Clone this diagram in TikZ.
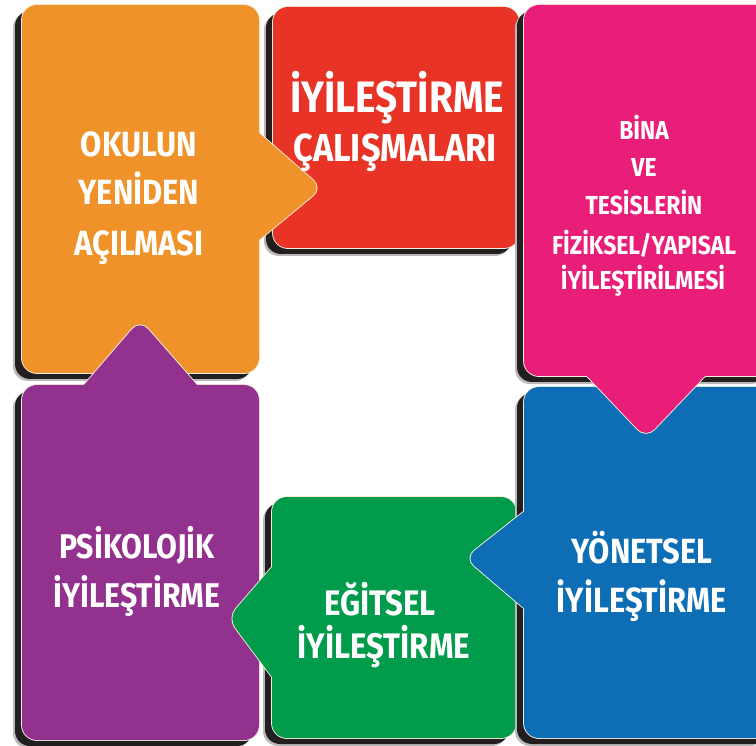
\documentclass[tikz,border=0pt]{standalone}
\usepackage{fontspec}
\newfontfamily\lab{Fira Sans}[FakeStretch=0.88]
\definecolor{orangec}{HTML}{F0922A}
\definecolor{redc}{HTML}{E83326}
\definecolor{pinkc}{HTML}{E91E79}
\definecolor{bluec}{HTML}{0D6DB5}
\definecolor{greenc}{HTML}{009B4B}
\definecolor{purplec}{HTML}{93328E}
\definecolor{shadowc}{HTML}{231F20}
\definecolor{rimc}{HTML}{F6EEDD}
\tikzset{
  lbl/.style={text=white, anchor=base, inner sep=0pt, font=\lab\bfseries},
  shadowbox/.style={fill=shadowc, rounded corners=15pt, xshift=-7pt, yshift=-6pt},
  softshadow/.style={fill=gray!55, rounded corners=15pt, xshift=-9pt, yshift=-8pt},
  rim/.style={draw=rimc, line width=1.8pt},
  body/.style={rounded corners=15pt},
  tip/.style={rounded corners=12pt},
}
\begin{document}
\begin{tikzpicture}[x=1pt,y=-1pt]
\fill[white] (0,0) rectangle (756,746);
\useasboundingbox (0,0) rectangle (756,746);

% ---- red
\fill[softshadow] (273,7) rectangle (519,248);
\fill[shadowbox] (273,7) rectangle (519,248);
\draw[rim,body] (273,7) rectangle (519,248);
\fill[redc,body] (273,7) rectangle (519,248);

% ---- orange (tab to the right)
\fill[softshadow] (22,5) rectangle (259,373);
\fill[shadowbox] (22,5) rectangle (259,373);
\draw[rim,body] (22,5) rectangle (259,373);
\draw[rim,tip] (227.5,105.5) -- (322,188) -- (227.5,266) -- cycle;
\fill[orangec,body] (22,5) rectangle (259,373);
\fill[orangec,tip] (227.5,105.5) -- (322,188) -- (227.5,266) -- cycle;

% ---- purple (tab upwards)
\fill[softshadow] (22,385) rectangle (259,740);
\fill[shadowbox] (22,385) rectangle (259,740);
\draw[rim,body] (22,385) rectangle (259,740);
\draw[rim,tip] (56,417.5) -- (140,320) -- (225.5,417.5) -- cycle;
\fill[purplec,body] (22,385) rectangle (259,740);
\fill[purplec,tip] (56,417.5) -- (140,320) -- (225.5,417.5) -- cycle;

% ---- green (tab to the left)
\fill[softshadow] (272,497) rectangle (516,738);
\fill[shadowbox] (272,497) rectangle (516,738);
\draw[rim,body] (272,497) rectangle (516,738);
\draw[rim,tip] (294,541.5) -- (228,618) -- (294,706.5) -- cycle;
\fill[greenc,body] (272,497) rectangle (516,738);
\fill[greenc,tip] (294,541.5) -- (228,618) -- (294,706.5) -- cycle;

% ---- blue (tab to the left)
\fill[softshadow] (524,387) rectangle (775,738);
\fill[shadowbox] (524,387) rectangle (775,738);
\draw[rim,body] (524,387) rectangle (775,738);
\draw[rim,tip] (556.5,486) -- (465,558) -- (556.5,636) -- cycle;
\fill[bluec,body] (524,387) rectangle (775,738);
\fill[bluec,tip] (556.5,486) -- (465,558) -- (556.5,636) -- cycle;

% ---- pink (tab downwards)
\fill[softshadow] (524,5) rectangle (775,376);
\fill[shadowbox] (524,5) rectangle (775,376);
\draw[rim,body] (524,5) rectangle (775,376);
\draw[rim,tip] (557.5,345) -- (646,438) -- (734.5,345) -- cycle;
\fill[pinkc,body] (524,5) rectangle (775,376);
\fill[pinkc,tip] (557.5,345) -- (646,438) -- (734.5,345) -- cycle;

% ---- texts
\node[lbl, font=\lab\bfseries\fontsize{35}{35}\selectfont] (o1) at (139,157) {OKULUN};
\node[lbl, font=\lab\bfseries\fontsize{35}{35}\selectfont] (o2) at (139,205) {YENİDEN};
\node[lbl, font=\lab\bfseries\fontsize{35}{35}\selectfont] (o3) at (139,256) {AÇILMASI};

\node[lbl, font=\lab\bfseries\fontsize{44}{44}\selectfont] (r1) at (397,113) {İYİLEŞTİRME};
\node[lbl, font=\lab\bfseries\fontsize{39}{39}\selectfont] (r2) at (395,162) {ÇALIŞMALARI};

\node[lbl, font=\lab\bfseries\fontsize{26}{26}\selectfont] (p1) at (644,140) {BİNA};
\node[lbl, font=\lab\bfseries\fontsize{26}{26}\selectfont] (p2) at (644,177) {VE};
\node[lbl, font=\lab\bfseries\fontsize{26}{26}\selectfont] (p3) at (644,215) {TESİSLERİN};
\node[lbl, font=\lab\bfseries\fontsize{26}{26}\selectfont] (p4) at (644,255) {FİZİKSEL/YAPISAL};
\node[lbl, font=\lab\bfseries\fontsize{26}{26}\selectfont] (p5) at (643,290) {İYİLEŞTİRİLMESİ};

\node[lbl, font=\lab\bfseries\fontsize{34.3}{34.3}\selectfont] (u1) at (137,558) {PSİKOLOJİK};
\node[lbl, font=\lab\bfseries\fontsize{34.3}{34.3}\selectfont] (u2) at (137,607) {İYİLEŞTİRME};

\node[lbl, font=\lab\bfseries\fontsize{35.5}{35.5}\selectfont] (g1) at (380,615) {EĞİTSEL};
\node[lbl, font=\lab\bfseries\fontsize{35.5}{35.5}\selectfont] (g2) at (384,658) {İYİLEŞTİRME};

\node[lbl, font=\lab\bfseries\fontsize{35}{35}\selectfont] (b1) at (642,563) {YÖNETSEL};
\node[lbl, font=\lab\bfseries\fontsize{35}{35}\selectfont] (b2) at (642,612) {İYİLEŞTİRME};
\end{tikzpicture}
\end{document}
